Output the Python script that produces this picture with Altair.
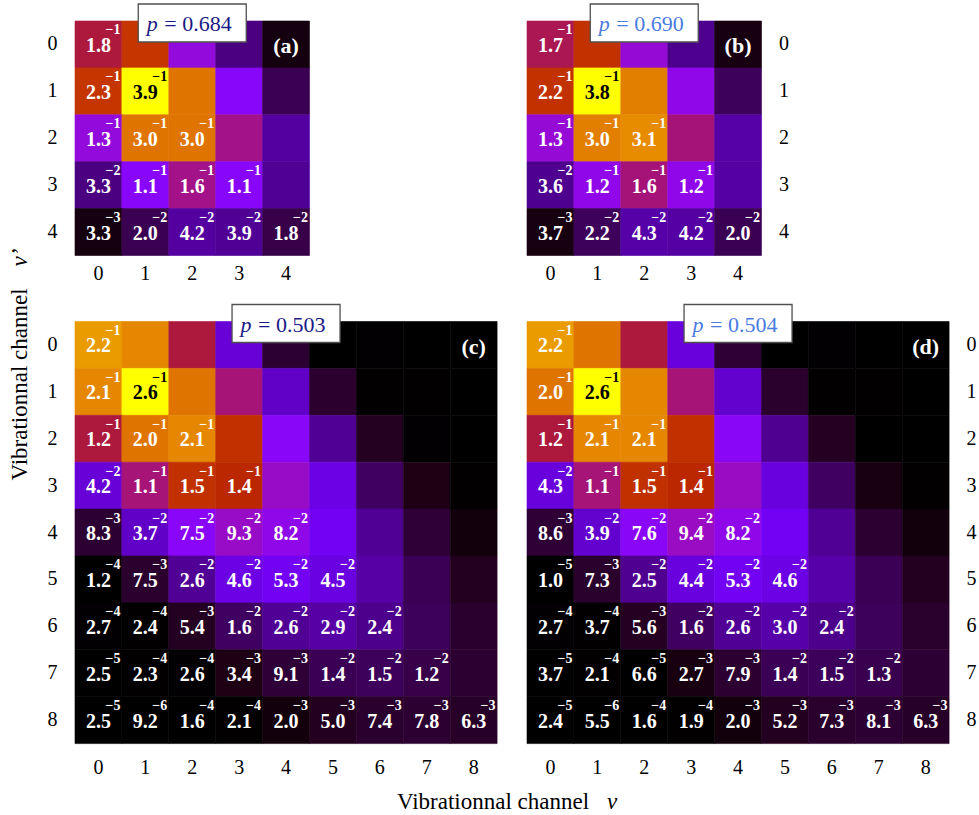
import math
import altair as alt
import pandas as pd

# ---- data: lower triangles (row = v', col = v), matrices are symmetric ----
ROWS_A = [
    [1.8e-1],
    [2.3e-1, 3.9e-1],
    [1.3e-1, 3.0e-1, 3.0e-1],
    [3.3e-2, 1.1e-1, 1.6e-1, 1.1e-1],
    [3.3e-3, 2.0e-2, 4.2e-2, 3.9e-2, 1.8e-2],
]
ROWS_B = [
    [1.7e-1],
    [2.2e-1, 3.8e-1],
    [1.3e-1, 3.0e-1, 3.1e-1],
    [3.6e-2, 1.2e-1, 1.6e-1, 1.2e-1],
    [3.7e-3, 2.2e-2, 4.3e-2, 4.2e-2, 2.0e-2],
]
ROWS_C = [
    [2.2e-1],
    [2.1e-1, 2.6e-1],
    [1.2e-1, 2.0e-1, 2.1e-1],
    [4.2e-2, 1.1e-1, 1.5e-1, 1.4e-1],
    [8.3e-3, 3.7e-2, 7.5e-2, 9.3e-2, 8.2e-2],
    [1.2e-4, 7.5e-3, 2.6e-2, 4.6e-2, 5.3e-2, 4.5e-2],
    [2.7e-4, 2.4e-4, 5.4e-3, 1.6e-2, 2.6e-2, 2.9e-2, 2.4e-2],
    [2.5e-5, 2.3e-4, 2.6e-4, 3.4e-3, 9.1e-3, 1.4e-2, 1.5e-2, 1.2e-2],
    [2.5e-5, 9.2e-6, 1.6e-4, 2.1e-4, 2.0e-3, 5.0e-3, 7.4e-3, 7.8e-3, 6.3e-3],
]
ROWS_D = [
    [2.2e-1],
    [2.0e-1, 2.6e-1],
    [1.2e-1, 2.1e-1, 2.1e-1],
    [4.3e-2, 1.1e-1, 1.5e-1, 1.4e-1],
    [8.6e-3, 3.9e-2, 7.6e-2, 9.4e-2, 8.2e-2],
    [1.0e-5, 7.3e-3, 2.5e-2, 4.4e-2, 5.3e-2, 4.6e-2],
    [2.7e-4, 3.7e-4, 5.6e-3, 1.6e-2, 2.6e-2, 3.0e-2, 2.4e-2],
    [3.7e-5, 2.1e-4, 6.6e-5, 2.7e-3, 7.9e-3, 1.4e-2, 1.5e-2, 1.3e-2],
    [2.4e-5, 5.5e-6, 1.6e-4, 1.9e-4, 2.0e-3, 5.2e-3, 7.3e-3, 8.1e-3, 6.3e-3],
]
P_VALUES = [0.684, 0.690, 0.503, 0.504]
PANEL_TAGS = ["(a)", "(b)", "(c)", "(d)"]
P_COLORS = ["#1a1a86", "#4a7be0", "#1a1a86", "#4a7be0"]

SERIF = "Liberation Serif"
CELL = 46.9


def gnuplot(x):
    r = math.sqrt(x)
    g = x ** 3
    b = max(0.0, math.sin(2 * math.pi * x))
    return "#%02x%02x%02x" % (round(255 * r), round(255 * g), round(255 * min(1.0, b)))


N_STOPS = 81
STOPS = [i / (N_STOPS - 1) for i in range(N_STOPS)]
COLORS = [gnuplot(s) for s in STOPS]


def table(lower):
    n = len(lower)
    recs = []
    for i in range(n):
        for j in range(n):
            v = lower[i][j] if j <= i else lower[j][i]
            m, e = f"{v:.1e}".split("e")
            shown = j <= i
            recs.append(dict(row=i, col=j, value=v,
                             mant=m if shown else "",
                             expo=("\u2212" + str(abs(int(e)))) if shown else ""))
    return pd.DataFrame(recs)


def panel(lower, pval, tag, pcolor, side, xpad, titles=False):
    n = len(lower)
    size = CELL * n
    df = table(lower)
    base = alt.Chart(df).transform_joinaggregate(vmax="max(value)").transform_calculate(
        norm="datum.value / datum.vmax")
    sc = alt.Scale(paddingInner=0, paddingOuter=0)
    x = alt.X("col:O", scale=sc, axis=alt.Axis(title=None, labelAngle=0, orient="bottom",
                                                labelPadding=xpad))
    y = alt.Y("row:O", scale=sc, axis=alt.Axis(title=None, orient=side,
                                                labelPadding=18 if side == "left" else 17))
    cscale = alt.Scale(domain=STOPS, range=COLORS, clamp=True, interpolate="rgb")
    heat = base.mark_rect(strokeWidth=0.6).encode(
        x=x, y=y,
        color=alt.Color("norm:Q", scale=cscale, legend=None),
        stroke=alt.Stroke("norm:Q", scale=cscale, legend=None),
    )
    txtcol = alt.condition(alt.datum.norm >= 0.999, alt.value("black"), alt.value("white"))
    mant = base.transform_filter("datum.mant != ''").mark_text(
        font=SERIF, fontWeight="bold", fontSize=20, baseline="middle", align="center", dy=1.5
    ).encode(x=x, y=y, text="mant:N", color=txtcol)
    expo = base.transform_filter("datum.expo != ''").mark_text(
        font=SERIF, fontWeight="bold", fontSize=14, baseline="middle", align="right",
        dx=CELL / 2 - 1.5, dy=-14
    ).encode(x=x, y=y, text="expo:N", color=txtcol)
    tagdf = pd.DataFrame({"row": [0], "col": [n - 1], "tag": [tag]})
    tagm = alt.Chart(tagdf).mark_text(
        font=SERIF, fontWeight="bold", fontSize=22, color="white", baseline="middle", dy=2
    ).encode(x=x, y=y, text="tag:N")
    pdf = pd.DataFrame({"p": [pval]})
    pbase = alt.Chart(pdf)
    box = pbase.mark_rect(fill="white", stroke="#505050", strokeWidth=1.3).encode(
        x=alt.value(size / 2 - 54), x2=alt.value(size / 2 + 54),
        y=alt.value(-17), y2=alt.value(21))
    ptxt = pbase.mark_text(font=SERIF, fontStyle="italic", fontSize=22, color=pcolor,
                           align="center", baseline="middle").encode(
        x=alt.value(size / 2 - 40), y=alt.value(3), text=alt.value("p"))
    vtxt = pbase.transform_calculate(lbl="'= ' + format(datum.p, '.3f')").mark_text(
        font=SERIF, fontSize=22, color=pcolor, align="left", baseline="middle").encode(
        x=alt.value(size / 2 - 28), y=alt.value(3), text="lbl:N")
    layers = [heat, mant, expo, tagm, box, ptxt, vtxt]
    if titles:
        tdf = alt.Chart(pd.DataFrame({"k": [0]}))
        ytitle = tdf.mark_text(font=SERIF, fontSize=23, angle=270, align="center", baseline="middle").encode(
            x=alt.value(-55), y=alt.value(63), text=alt.value("Vibrationnal channel"))
        yv = tdf.mark_text(font=SERIF, fontSize=23, fontStyle="italic", angle=270, align="center",
                           baseline="middle").encode(
            x=alt.value(-55), y=alt.value(-64), text=alt.value("v\u2019"))
        xtitle = tdf.mark_text(font=SERIF, fontSize=23, align="center", baseline="middle").encode(
            x=alt.value(418), y=alt.value(480), text=alt.value("Vibrationnal channel"))
        xv = tdf.mark_text(font=SERIF, fontSize=23, fontStyle="italic", align="center",
                           baseline="middle").encode(
            x=alt.value(537), y=alt.value(480), text=alt.value("v"))
        layers += [ytitle, yv, xtitle, xv]
    return alt.layer(*layers).properties(width=size, height=size)


pa = panel(ROWS_A, P_VALUES[0], PANEL_TAGS[0], P_COLORS[0], "left", 8)
pb = panel(ROWS_B, P_VALUES[1], PANEL_TAGS[1], P_COLORS[1], "right", 8)
pc = panel(ROWS_C, P_VALUES[2], PANEL_TAGS[2], P_COLORS[2], "left", 14, titles=True)
pd_ = panel(ROWS_D, P_VALUES[3], PANEL_TAGS[3], P_COLORS[3], "right", 14)

chart = alt.concat(
    pa, pb, pc, pd_, columns=2, spacing={"row": 65.5, "column": 29}, bounds="flush"
).resolve_scale(color="independent", stroke="independent").properties(
    padding={"left": 9, "top": 3, "right": 2, "bottom": 2}
).configure_view(stroke=None).configure_axis(
    labelFont=SERIF, labelFontSize=20, labelColor="black", ticks=False, domain=False, grid=False
)

chart.save("out.html", embed_options={"renderer": "svg", "actions": False})
